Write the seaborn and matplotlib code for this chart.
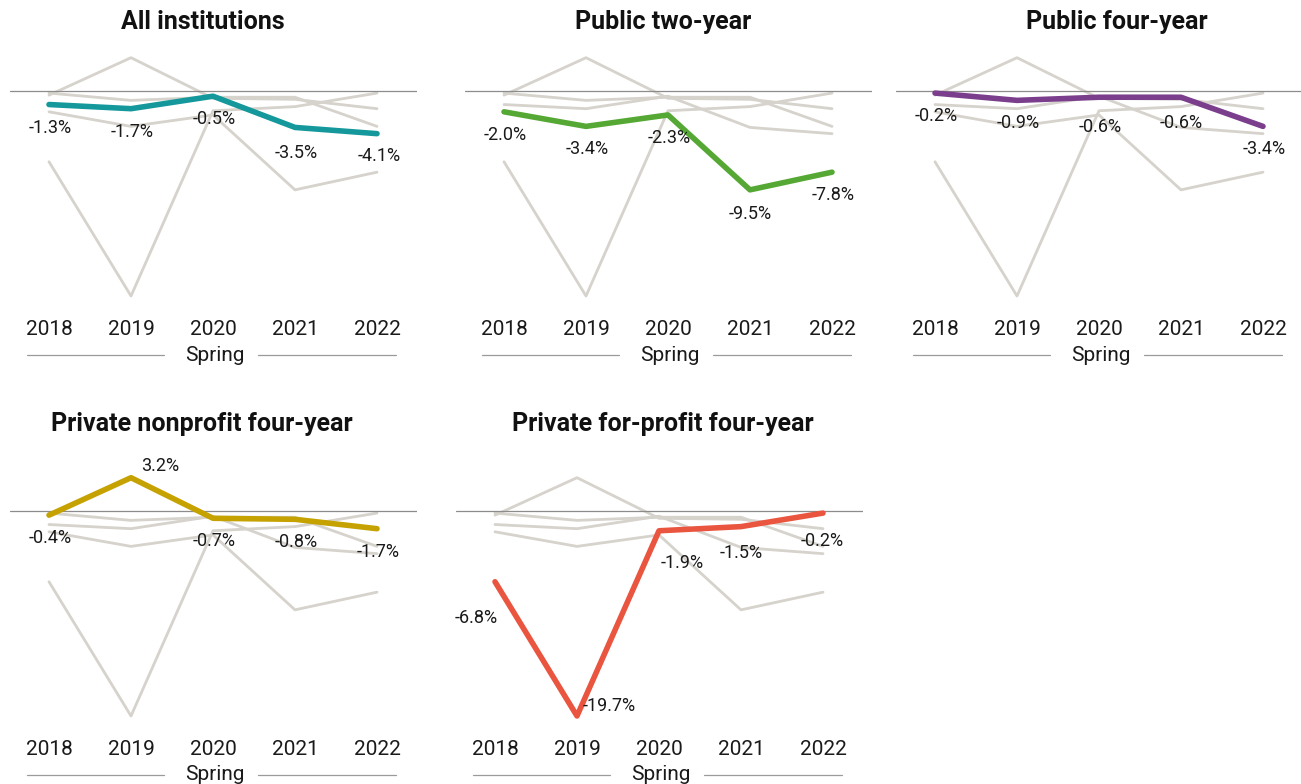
import matplotlib
matplotlib.use("Agg")
import matplotlib.pyplot as plt
from matplotlib.lines import Line2D
import seaborn as sns
import pandas as pd

# Year-over-year change in spring enrollment (%)
years = [2018, 2019, 2020, 2021, 2022]
sectors = [
    "All institutions",
    "Public two-year",
    "Public four-year",
    "Private nonprofit four-year",
    "Private for-profit four-year",
]
all_institutions = [-1.3, -1.7, -0.5, -3.5, -4.1]
public_two_year = [-2.0, -3.4, -2.3, -9.5, -7.8]
public_four_year = [-0.2, -0.9, -0.6, -0.6, -3.4]
private_nonprofit = [-0.4, 3.2, -0.7, -0.8, -1.7]
private_forprofit = [-6.8, -19.7, -1.9, -1.5, -0.2]
tick_labels = ["2018", "2019", "2020", "2021", "2022"]
axis_label = "Spring"

colors = ["#14989b", "#55a834", "#7b3e8c", "#c5a200", "#ea5540"]
GREY = "#d6d2cc"

series = [all_institutions, public_two_year, public_four_year,
          private_nonprofit, private_forprofit]
df = pd.concat(
    [pd.DataFrame({"year": years, "change": vals, "sector": name})
     for name, vals in zip(sectors, series)],
    ignore_index=True,
)

sns.set_theme(style="white")
plt.rcParams["font.family"] = ["Roboto", "DejaVu Sans"]

W, H = 1301, 784
fig = plt.figure(figsize=(W / 100, H / 100), dpi=100)

# pixel layout: (axes left, zero line y, title centre x, title y)
layout = [
    (10, 91, 203, 22),
    (465, 91, 663, 22),
    (896, 91, 1117, 22),
    (10, 511, 202, 424),
    (456, 511, 663, 424),
]
AX_W = 407
ABOVE, BELOW = 46, 219
PX_PER_UNIT = 10.406
STEP = 82

# label offsets in pixels (dx, dy downwards) for value labels
default_off = (1, 23)
label_off = {
    (0, 3): (1, 26), (0, 4): (2, 22),
    (1, 3): (0, 24),
    (2, 2): (1, 30), (2, 3): (0, 26),
    (3, 1): (29, -12),
    (4, 0): (-19, 36), (4, 1): (32, -10), (4, 2): (23, 32), (4, 3): (0, 26),
    (4, 4): (-1, 28),
}

def fx(px):
    return px / W

def fy(py):
    return 1 - py / H

for i, (name, color) in enumerate(zip(sectors, colors)):
    L, zy, tx, ty = layout[i]
    ax = fig.add_axes([fx(L), fy(zy + BELOW), AX_W / W, (ABOVE + BELOW) / H])
    ymax = ABOVE / PX_PER_UNIT
    ymin = -BELOW / PX_PER_UNIT
    ax.set_ylim(ymin, ymax)
    ax.set_xlim(years[0] - 39 / STEP, years[-1] + 40 / STEP)

    others = df[df["sector"] != name]
    sns.lineplot(data=others, x="year", y="change", units="sector",
                 estimator=None, color=GREY, linewidth=2.0, ax=ax,
                 legend=False, zorder=1)
    ax.axhline(0, color="#8c8c8c", linewidth=0.9, zorder=2)
    sel = df[df["sector"] == name]
    sns.lineplot(data=sel, x="year", y="change", color=color,
                 linewidth=4.0, ax=ax, legend=False, zorder=3,
                 solid_capstyle="round", solid_joinstyle="round")

    for j, (yr, v) in enumerate(zip(sel["year"], sel["change"])):
        dx, dy = label_off.get((i, j), default_off)
        ax.annotate(f"{v:.1f}%", (yr, v), xytext=(dx * 0.72, -dy * 0.72),
                    textcoords="offset points", ha="center", va="center",
                    fontsize=13, color="#1a1a1a", zorder=4)

    ax.set_xticks(years)
    ax.set_xticklabels(tick_labels, fontsize=15, color="#1a1a1a")
    ax.tick_params(axis="x", length=0, pad=7)
    ax.set_yticks([])
    ax.set_xlabel("")
    ax.set_ylabel("")
    for s in ax.spines.values():
        s.set_visible(False)
    ax.patch.set_alpha(0)

    # panel title
    fig.text(fx(tx), fy(ty), name, ha="center", va="center",
             fontsize=18, fontweight="bold", color="#111111")
    # "Spring" axis caption with rules
    sy = zy + 264
    fig.text(fx(L + 205), fy(sy), axis_label, ha="center", va="center",
             fontsize=15, color="#1a1a1a")
    for a, b in [(L + 17, L + 154), (L + 248, L + 386)]:
        fig.add_artist(Line2D([fx(a), fx(b)], [fy(sy), fy(sy)],
                              color="#9a9a9a", linewidth=0.9))

fig.savefig("out.png", dpi=100)
